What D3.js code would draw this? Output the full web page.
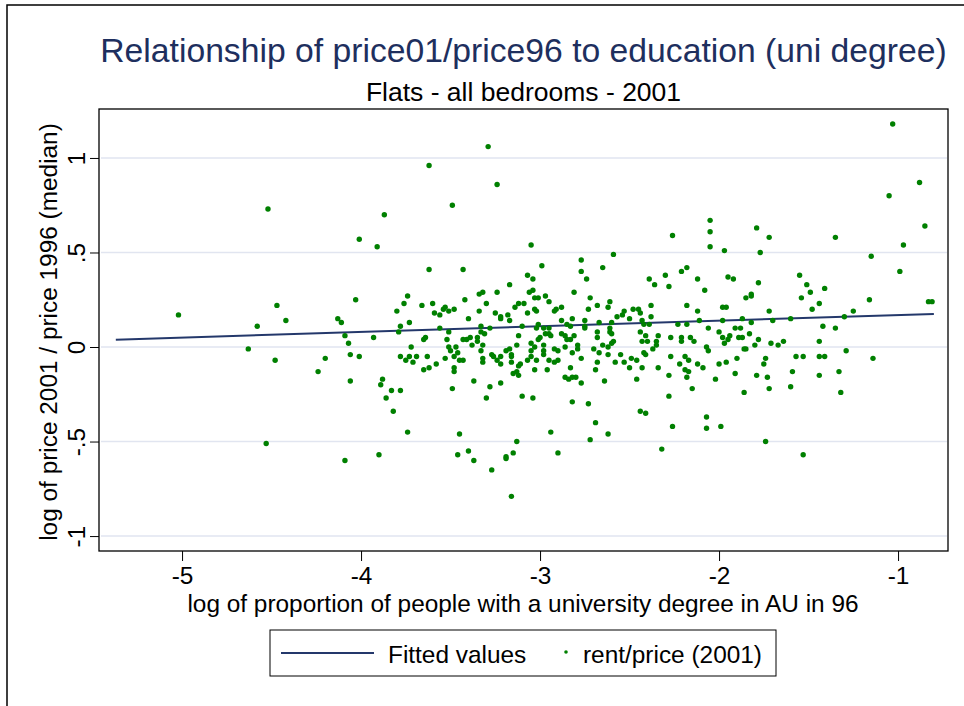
<!DOCTYPE html>
<html>
<head>
<meta charset="utf-8">
<script src="https://cdnjs.cloudflare.com/ajax/libs/d3/7.8.5/d3.min.js"></script>
<style>
  body { margin: 0; background: #fff; }
  svg { display: block; }
  text { font-family: "Liberation Sans", Arial, sans-serif; }
</style>
</head>
<body>
<div id="chart"></div>
<script>
(function() {

  var
    width = 964,
    height = 706,
    titleText = 'Relationship of price01/price96 to education (uni degree)',
    subtitleText = 'Flats - all bedrooms - 2001',
    xTitle = 'log of proportion of people with a university degree in AU in 96',
    yTitle = 'log of price 2001 / price 1996 (median)',
    legendLabels = ['Fitted values', 'rent/price (2001)'];

  var
    xTicks = [-5, -4, -3, -2, -1],
    yTicks = [1, 0.5, 0, -0.5, -1],
    yTickLabels = ['1', '.5', '0', '-.5', '-1'];

  var
    fitX = [-5.37, -0.80],
    fitY = [0.039, 0.175];

  // [log share with uni degree, log price ratio]
  var scatterPoints = [
    [-5.02,0.17],[-4.52,0.73],[-4.47,0.22],[-4.58,0.11],[-4.42,0.14],[-4.63,-0.01],[-4.48,-0.07],[-4.53,-0.51],
    [-3.29,1.06],[-3.62,0.96],[-3.24,0.86],[-3.49,0.75],[-3.87,0.70],[-4.01,0.57],[-3.91,0.53],[-3.62,0.41],
    [-3.43,0.41],[-3.17,0.33],[-4.03,0.25],[-3.74,0.27],[-3.76,0.23],[-3.66,0.22],[-3.60,0.23],[-3.42,0.25],
    [-3.34,0.28],[-3.32,0.29],[-3.24,0.29],[-3.30,0.23],[-3.80,0.19],[-3.59,0.18],[-3.56,0.17],[-3.54,0.20],
    [-3.53,0.21],[-3.51,0.19],[-3.48,0.20],[-3.34,0.19],[-3.25,0.18],[-3.22,0.16],[-3.22,0.15],[-3.18,0.17],
    [-3.17,0.14],[-3.14,0.21],[-3.12,0.23],[-3.09,0.23],[-4.13,0.15],[-4.11,0.13],[-3.40,0.15],[-3.73,0.13],
    [-3.78,0.11],[-3.56,0.10],[-3.33,0.11],[-3.28,0.10],[-3.10,0.11],
    [-3.05,0.54],[-2.05,0.67],[-2.05,0.61],[-2.05,0.53],[-2.26,0.59],[-1.97,0.51],[-2.59,0.49],[-2.77,0.46],
    [-2.99,0.43],[-2.65,0.42],[-2.77,0.40],[-2.74,0.36],[-3.07,0.38],[-3.04,0.36],[-2.18,0.42],[-2.21,0.40],
    [-2.30,0.38],[-2.28,0.32],[-2.39,0.36],[-2.36,0.33],[-2.12,0.36],[-1.95,0.37],[-1.92,0.36],[-2.08,0.30],
    [-3.06,0.29],[-3.04,0.30],[-2.81,0.29],[-2.97,0.27],[-3.03,0.26],[-3.01,0.26],[-2.95,0.24],[-2.72,0.26],
    [-2.61,0.24],[-2.68,0.22],[-2.62,0.21],[-2.73,0.20],[-3.07,0.18],[-3.03,0.20],[-3.02,0.19],[-2.92,0.19],
    [-2.91,0.20],[-2.88,0.21],[-2.82,0.15],[-2.88,0.14],[-2.85,0.12],[-2.83,0.11],[-2.75,0.14],[-2.75,0.11],
    [-2.67,0.13],[-2.60,0.13],[-2.57,0.16],[-2.54,0.17],[-2.53,0.19],[-2.48,0.20],[-2.45,0.20],[-2.44,0.18],
    [-2.50,0.15],[-2.38,0.22],[-2.38,0.16],[-2.43,0.14],[-2.42,0.12],[-2.39,0.12],[-2.18,0.22],[-2.12,0.19],
    [-2.11,0.14],[-1.98,0.21],[-1.96,0.21],[-1.98,0.14],[-2.23,0.12],[-2.18,0.12],[-2.06,0.10],[-1.91,0.10],
    [-3.01,0.12],[-3.02,0.10],[-2.98,0.10],[-2.95,0.10],[-2.75,0.10],[-2.61,0.10],
    [-1.03,1.18],[-1.05,0.80],[-0.88,0.87],[-0.85,0.64],[-0.97,0.54],[-1.15,0.48],[-1.35,0.58],[-1.79,0.63],
    [-1.72,0.58],[-1.77,0.50],[-1.55,0.38],[-1.51,0.33],[-1.41,0.31],[-1.49,0.29],[-1.54,0.26],[-1.44,0.23],
    [-1.48,0.20],[-1.78,0.34],[-1.85,0.26],[-1.82,0.27],[-1.82,0.28],[-0.99,0.40],[-1.16,0.25],[-0.83,0.24],
    [-0.81,0.24],[-1.72,0.19],[-1.25,0.19],[-1.30,0.16],[-1.60,0.15],[-1.87,0.15],[-1.82,0.13],[-1.70,0.14],
    [-1.42,0.11],[-1.35,0.10],[-1.88,0.10],
    [-1.83,0.07],[-1.87,0.05],[-1.78,0.04],[-1.80,0.01],[-1.71,0.02],[-1.67,0.01],[-1.64,0.03],[-1.44,0.03],
    [-1.86,-0.01],[-1.85,-0.01],[-1.74,-0.06],[-1.75,-0.09],[-1.57,-0.05],[-1.53,-0.05],[-1.44,-0.05],[-1.41,-0.05],
    [-1.29,-0.02],[-1.14,-0.06],[-1.79,-0.15],[-1.73,-0.16],[-1.59,-0.13],[-1.44,-0.15],[-1.33,-0.13],[-1.86,-0.24],
    [-1.72,-0.22],[-1.60,-0.21],[-1.32,-0.24],[-1.74,-0.50],[-1.53,-0.57],
    [-3.79,0.08],[-4.09,0.06],[-4.07,0.02],[-3.93,0.05],[-4.20,-0.06],[-4.06,-0.04],[-4.01,-0.05],[-4.24,-0.13],
    [-4.06,-0.18],[-3.88,-0.17],[-3.89,-0.20],[-3.83,-0.23],[-3.78,-0.23],[-3.86,-0.27],[-3.82,-0.34],[-3.74,-0.45],
    [-4.09,-0.60],[-3.90,-0.57],[-3.72,0.00],[-3.78,-0.05],[-3.75,-0.07],[-3.73,-0.05],[-3.71,-0.08],[-3.69,-0.05],
    [-3.65,0.04],[-3.64,0.05],[-3.63,-0.05],[-3.65,-0.12],[-3.62,-0.11],[-3.58,-0.09],[-3.52,0.04],[-3.51,0.08],
    [-3.51,0.00],[-3.50,-0.02],[-3.47,0.00],[-3.46,-0.03],[-3.53,-0.06],[-3.48,-0.05],[-3.45,-0.07],[-3.43,-0.07],
    [-3.48,-0.11],[-3.48,-0.13],[-3.49,-0.22],[-3.43,0.04],[-3.41,0.04],[-3.39,0.05],[-3.38,0.01],[-3.35,0.05],
    [-3.35,0.03],[-3.33,0.08],[-3.31,0.07],[-3.32,0.01],[-3.33,-0.02],[-3.32,-0.06],[-3.32,-0.08],[-3.37,-0.18],
    [-3.28,-0.21],[-3.30,-0.27],[-3.27,-0.04],[-3.26,-0.05],[-3.24,-0.07],[-3.22,-0.09],[-3.22,-0.05],[-3.22,-0.19],
    [-3.19,-0.02],[-3.17,-0.01],[-3.16,-0.04],[-3.16,-0.05],[-3.16,-0.08],[-3.13,0.01],[-3.12,0.06],[-3.11,-0.09],
    [-3.12,-0.10],[-3.15,-0.14],[-3.13,-0.13],[-3.12,-0.15],[-3.10,-0.26],[-3.45,-0.46],[-3.40,-0.55],[-3.46,-0.57],
    [-3.37,-0.60],[-3.27,-0.65],[-3.19,-0.58],[-3.19,-0.59],[-3.15,-0.56],[-3.13,-0.50],[-3.16,-0.79],
    [-2.95,0.07],[-2.94,0.06],[-2.97,0.07],[-3.00,0.05],[-3.01,0.04],[-2.88,0.07],[-2.86,0.06],[-2.85,0.04],
    [-2.81,0.06],[-2.83,0.04],[-3.05,0.02],[-3.03,0.00],[-3.05,-0.02],[-2.98,0.01],[-2.98,-0.04],[-2.98,-0.02],
    [-2.92,-0.01],[-2.90,-0.02],[-2.86,0.00],[-2.79,0.01],[-2.79,-0.01],[-2.82,-0.03],[-3.05,-0.05],[-3.07,-0.07],
    [-3.02,-0.07],[-2.95,-0.07],[-2.92,-0.08],[-2.90,-0.07],[-2.77,-0.06],[-3.03,-0.12],[-2.96,-0.12],[-2.83,-0.11],
    [-2.86,-0.16],[-2.84,-0.17],[-2.82,-0.16],[-2.80,-0.16],[-2.77,-0.19],[-3.04,-0.27],[-2.82,-0.29],[-2.73,-0.30],
    [-2.94,-0.45],[-2.90,-0.56],[-2.69,-0.40],[-2.62,-0.46],[-2.72,-0.49],[-2.68,0.08],[-2.68,0.05],[-2.61,0.08],
    [-2.60,0.07],[-2.59,0.03],[-2.60,0.02],[-2.70,-0.01],[-2.67,-0.03],[-2.65,0.01],[-2.62,0.00],[-2.62,-0.04],
    [-2.68,-0.08],[-2.69,-0.12],[-2.64,-0.18],[-2.58,-0.08],[-2.55,-0.04],[-2.53,-0.08],[-2.50,-0.11],[-2.49,-0.06],
    [-2.46,-0.07],[-2.43,-0.11],[-2.46,-0.17],[-2.44,0.08],[-2.41,0.06],[-2.40,0.03],[-2.43,0.03],[-2.42,-0.03],
    [-2.41,-0.04],[-2.37,-0.01],[-2.35,0.03],[-2.35,0.01],[-2.34,0.06],[-2.34,-0.11],[-2.27,0.05],[-2.27,-0.05],
    [-2.28,-0.15],[-2.28,-0.26],[-2.44,-0.34],[-2.41,-0.35],[-2.26,-0.42],[-2.32,-0.54],[-2.21,0.05],[-2.21,0.03],
    [-2.16,0.05],[-2.14,0.03],[-2.22,-0.09],[-2.19,-0.05],[-2.17,-0.07],[-2.19,-0.12],[-2.17,-0.13],[-2.18,-0.16],
    [-2.12,-0.09],[-2.09,-0.11],[-2.07,0.00],[-2.06,-0.02],[-2.15,-0.22],[-2.07,-0.37],[-2.07,-0.43],[-1.99,-0.42],
    [-2.00,0.08],[-1.98,0.05],[-1.97,0.02],[-1.95,0.04],[-1.94,0.06],[-2.00,-0.09],[-1.96,-0.08],[-2.02,-0.17],
    [-1.91,-0.14],[-1.90,-0.06],[-1.89,0.05]
  ];

  var
    plotLeft = 99, plotRight = 948, plotTop = 109, plotBottom = 551,
    navy = '#1e2f5e',
    fitColor = '#24386b',
    dotColor = '#008000',
    gridColor = '#e1e5f0';

  var x = d3.scaleLinear().domain([-5.464, -0.721]).range([plotLeft, plotRight]),
      y = d3.scaleLinear().domain([-1.079, 1.259]).range([plotBottom, plotTop]);

  var svg = d3.select('#chart').append('svg')
    .attr('width', width)
    .attr('height', height);

  svg.append('rect').attr('width', width).attr('height', height).attr('fill', '#fff');

  // outer graph frame (runs off the right and bottom edge)
  svg.append('rect')
    .attr('x', 7).attr('y', 5)
    .attr('width', 1000).attr('height', 1000)
    .attr('fill', 'none').attr('stroke', '#000').attr('stroke-width', 1.5);

  svg.append('text')
    .attr('x', (plotLeft + plotRight) / 2).attr('y', 62)
    .attr('text-anchor', 'middle')
    .attr('font-size', 33.7)
    .attr('fill', navy)
    .text(titleText);

  svg.append('text')
    .attr('x', (plotLeft + plotRight) / 2).attr('y', 101)
    .attr('text-anchor', 'middle')
    .attr('font-size', 26.5)
    .attr('fill', '#000')
    .text(subtitleText);

  // grid
  svg.append('g').selectAll('line')
    .data(yTicks)
    .enter().append('line')
    .attr('x1', plotLeft + 2).attr('x2', plotRight - 1)
    .attr('y1', function(d) { return y(d); })
    .attr('y2', function(d) { return y(d); })
    .attr('stroke', gridColor).attr('stroke-width', 1.6);

  // fitted line
  svg.append('path')
    .datum(d3.range(fitX.length))
    .attr('fill', 'none')
    .attr('stroke', fitColor)
    .attr('stroke-width', 2)
    .attr('d', d3.line()
      .x(function(i) { return x(fitX[i]); })
      .y(function(i) { return y(fitY[i]); }));

  svg.append('g').selectAll('circle')
    .data(scatterPoints)
    .enter().append('circle')
    .attr('cx', function(d) { return x(d[0]); })
    .attr('cy', function(d) { return y(d[1]); })
    .attr('r', 2.7)
    .attr('fill', dotColor);

  // plot region box
  svg.append('rect')
    .attr('x', plotLeft).attr('y', plotTop)
    .attr('width', plotRight - plotLeft).attr('height', plotBottom - plotTop)
    .attr('fill', 'none').attr('stroke', '#000').attr('stroke-width', 1.3);

  var xAxis = svg.append('g')
    .attr('transform', 'translate(0,' + plotBottom + ')')
    .call(d3.axisBottom(x).tickValues(xTicks).tickSize(10)
      .tickFormat(function(d) { return String(d); }));

  var yAxis = svg.append('g')
    .attr('transform', 'translate(' + plotLeft + ',0)')
    .call(d3.axisLeft(y).tickValues(yTicks).tickSize(9)
      .tickFormat(function(d, i) { return yTickLabels[i]; }));

  [xAxis, yAxis].forEach(function(g) {
    g.select('.domain').remove();
    g.attr('font-family', null).attr('font-size', null);
    g.selectAll('.tick line').attr('stroke', '#000').attr('stroke-width', 1);
    g.selectAll('.tick text').attr('font-size', 24.4).attr('fill', '#000');
  });

  xAxis.selectAll('.tick text').attr('dy', null).attr('y', 33);

  yAxis.selectAll('.tick text')
    .attr('transform', 'rotate(-90)')
    .attr('text-anchor', 'middle')
    .attr('dy', null)
    .attr('x', 0)
    .attr('y', -14);

  svg.append('text')
    .attr('x', (plotLeft + plotRight) / 2 - 0.5).attr('y', 612)
    .attr('text-anchor', 'middle')
    .attr('font-size', 24.4)
    .text(xTitle);

  svg.append('text')
    .attr('transform', 'translate(57,' + ((plotTop + plotBottom) / 2 + 2) + ') rotate(-90)')
    .attr('text-anchor', 'middle')
    .attr('font-size', 24.4)
    .text(yTitle);

  // legend
  var legend = svg.append('g').attr('transform', 'translate(270,630)');
  legend.append('rect')
    .attr('width', 506).attr('height', 46)
    .attr('fill', '#fff').attr('stroke', '#000').attr('stroke-width', 1);
  legend.append('line')
    .attr('x1', 11).attr('x2', 104).attr('y1', 23).attr('y2', 23)
    .attr('stroke', fitColor).attr('stroke-width', 2);
  legend.append('text')
    .attr('x', 118).attr('y', 33)
    .attr('font-size', 24.4)
    .text(legendLabels[0]);
  legend.append('circle')
    .attr('cx', 296).attr('cy', 22).attr('r', 1.8)
    .attr('fill', dotColor);
  legend.append('text')
    .attr('x', 313).attr('y', 33)
    .attr('font-size', 24.4)
    .text(legendLabels[1]);

})();
</script>
</body>
</html>
